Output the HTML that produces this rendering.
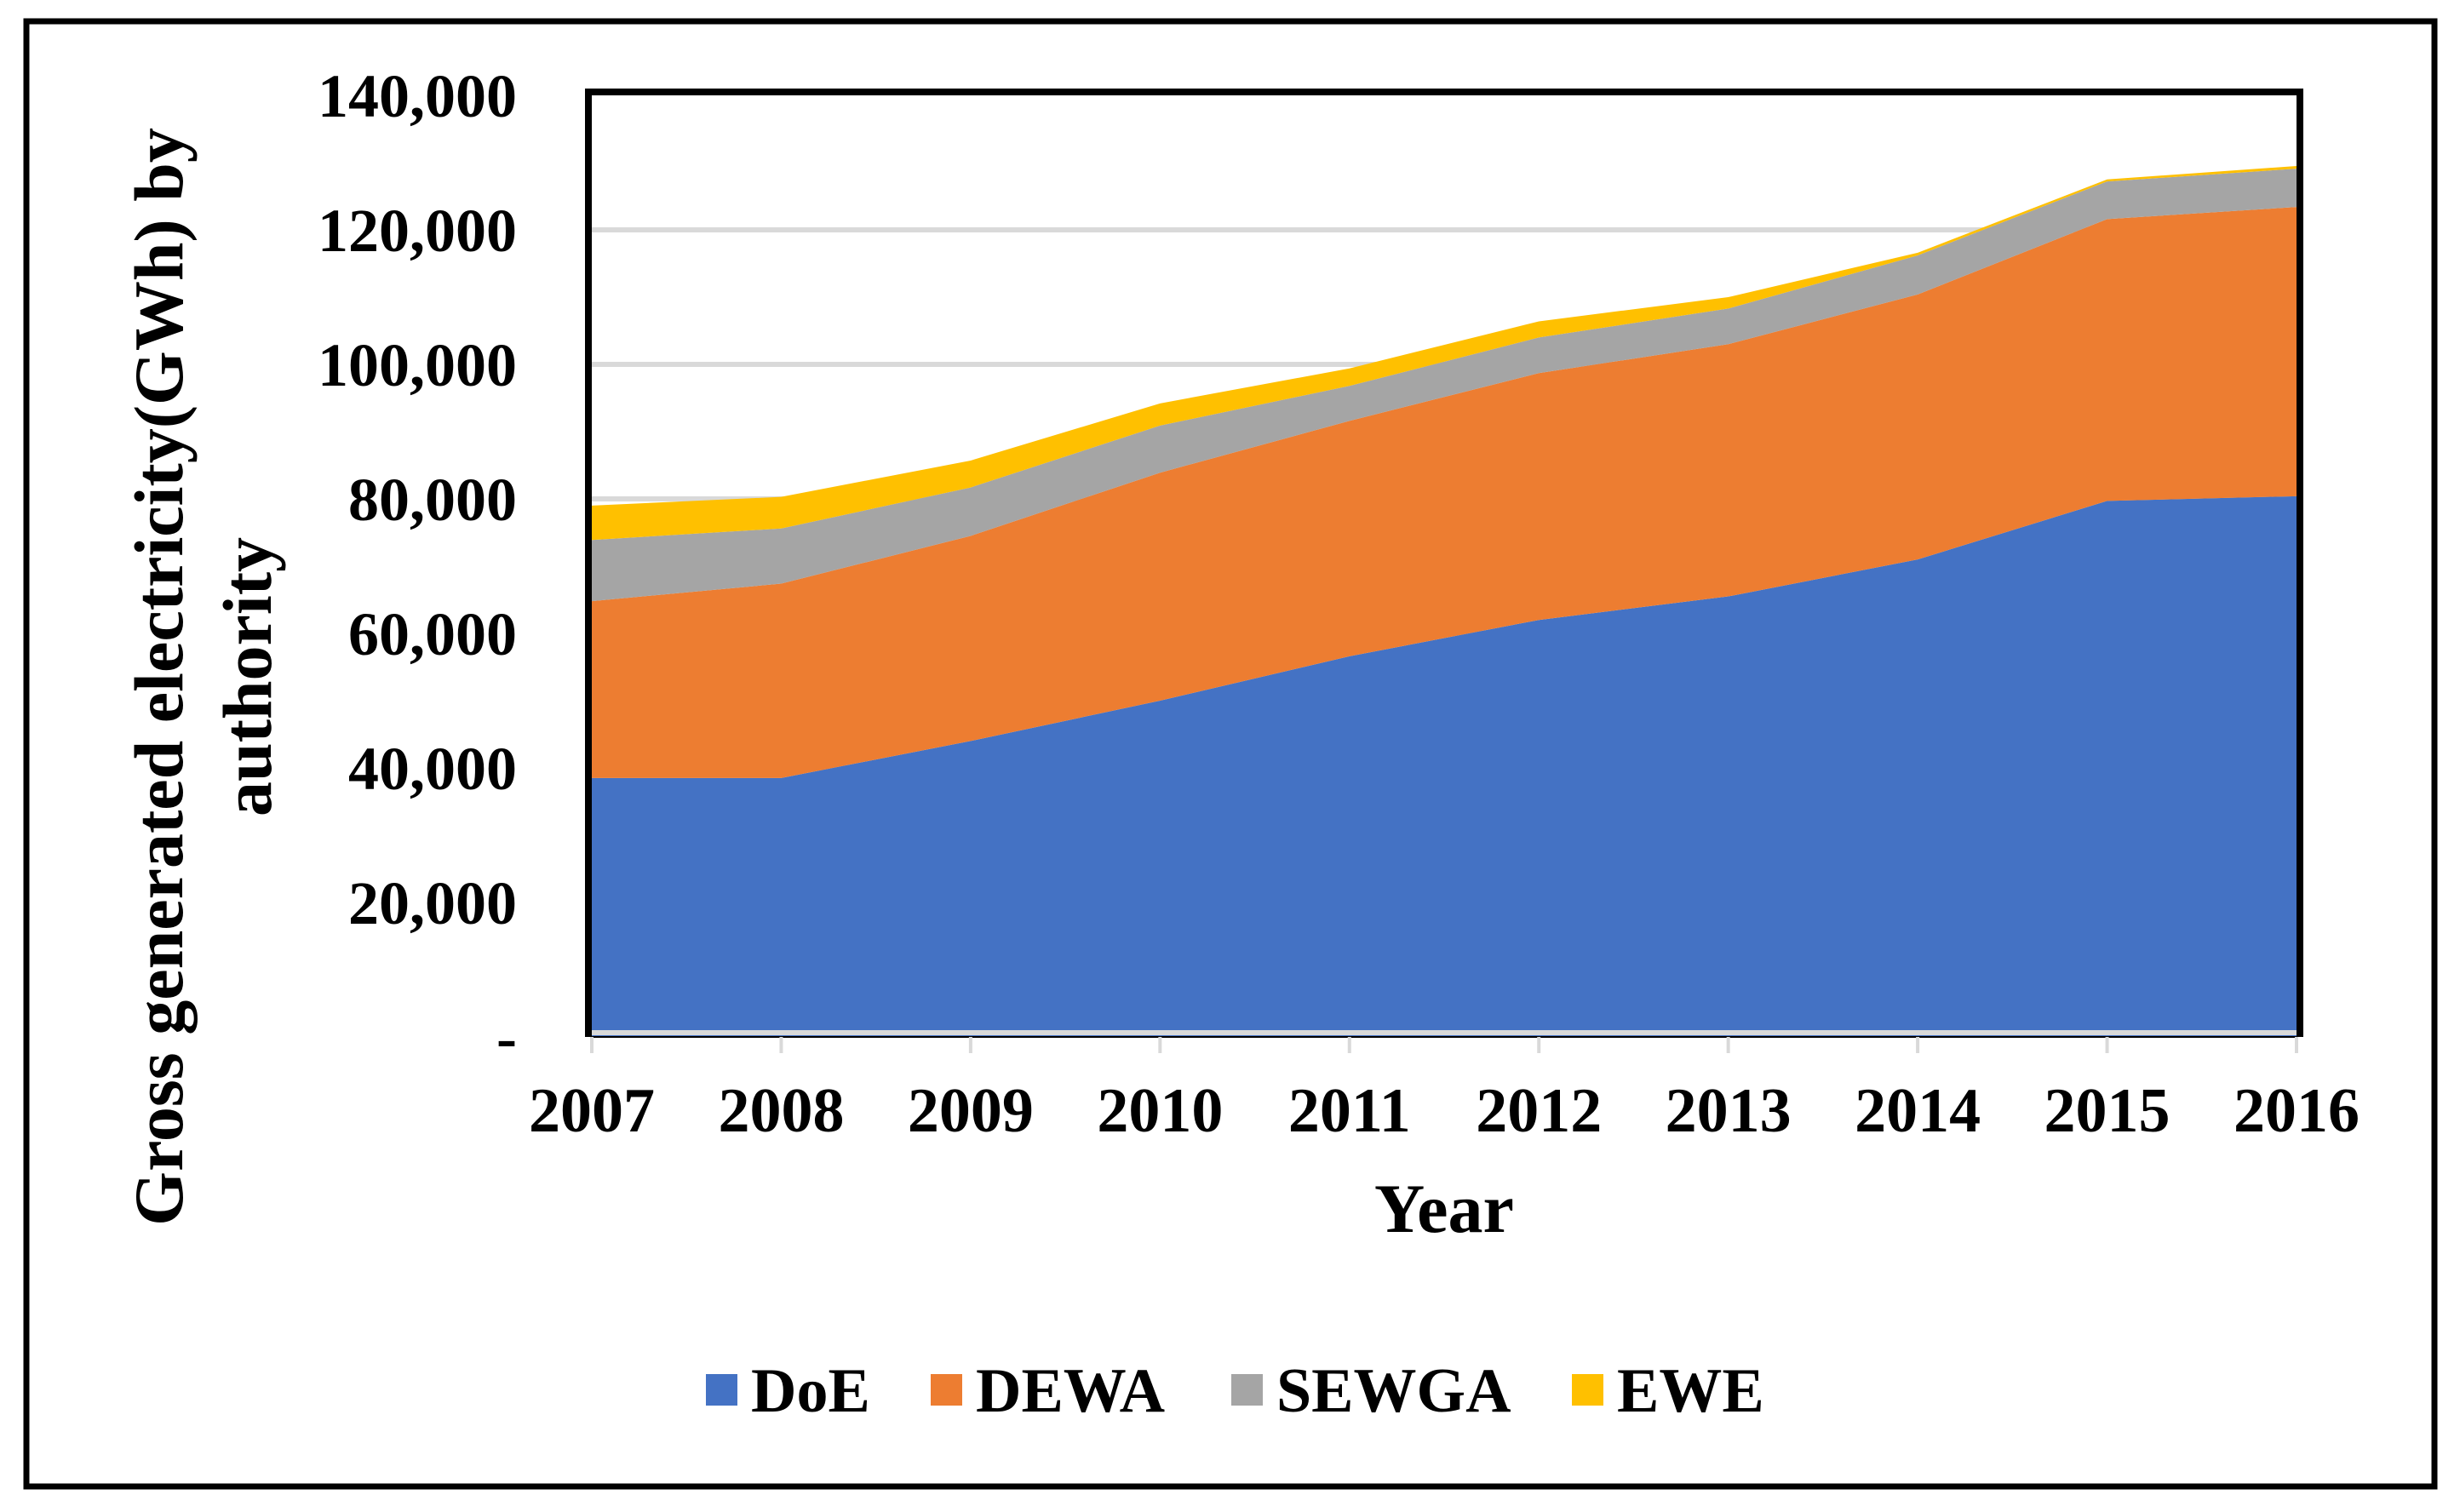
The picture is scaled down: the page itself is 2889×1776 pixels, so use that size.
<!DOCTYPE html>
<html><head><meta charset="utf-8">
<style>
html,body{margin:0;padding:0;background:#fff;}
body{width:2889px;height:1771px;overflow:hidden;position:relative;font-family:"Liberation Serif",serif;font-weight:bold;}
</style></head>
<body>
<svg id="chart" width="2889" height="1771" xmlns="http://www.w3.org/2000/svg" font-family="Liberation Serif, serif" font-weight="bold">
  <rect x="31" y="25" width="2828" height="1721" fill="#fff" stroke="#000" stroke-width="7"/>
  <g id="grid"></g>
  <g id="areas"></g>
  <g id="axes"></g>
  <text transform="translate(186,795) rotate(-90)" text-anchor="middle" font-size="82" dy="28">Gross generated electricity(GWh) by</text>
  <text transform="translate(290,795) rotate(-90)" text-anchor="middle" font-size="82" dy="28">authority</text>
  <text x="1696" y="1447" text-anchor="middle" font-size="82">Year</text>
  <g id="legend"></g>
</svg>
<script>
const years = ["2007","2008","2009","2010","2011","2012","2013","2014","2015","2016"];
const seriesNames = ["DoE","DEWA","SEWGA","EWE"];
const doe   = [38.5,38.5,44.0,50.0,56.6,62.0,65.5,71.0,79.7,80.4];
const dewa  = [26.3,28.9,30.5,33.9,35.0,36.7,37.5,39.4,41.9,43.0];
const sewga = [9.1,8.2,7.2,7.0,5.2,5.3,5.3,5.8,5.6,5.7];
const ewe   = [5.1,4.7,4.0,3.3,2.6,2.4,1.7,0.4,0.3,0.4];
const yTicks = [0,20,40,60,80,100,120,140];
const yTickLabels = ["-","20,000","40,000","60,000","80,000","100,000","120,000","140,000"];

const NS="http://www.w3.org/2000/svg";
const colors=["#4472C4","#ED7D31","#A5A5A5","#FFC000"];
const X0=695,X1=2697,Y0=1218,Y1=112,YMAX=140;
function xs(i){return X0+(X1-X0)*i/(years.length-1);}
function ys(v){return Y0-(Y0-Y1)*v/YMAX;}
function mk(tag,attrs,parent){const e=document.createElementNS(NS,tag);for(const k in attrs)e.setAttribute(k,attrs[k]);parent.appendChild(e);return e;}

const grid=document.getElementById('grid');
yTicks.forEach((t,i)=>{
  if(t>0&&t<YMAX){
    const l=mk('line',{x1:X0,x2:X1,y1:ys(t),y2:ys(t),stroke:'#D9D9D9','stroke-width':6},grid);
    
    
  }
  const tx=mk('text',{x:607,y:ys(t)+25,'text-anchor':'end','font-size':72},grid);
  
  
  tx.textContent=yTickLabels[i];
});

const areas=document.getElementById('areas');
const data=[doe,dewa,sewga,ewe];
let base=years.map(()=>0);
data.forEach((s,k)=>{
  const top=base.map((b,i)=>b+s[i]);
  let d='M'+xs(0)+','+ys(top[0]);
  for(let i=1;i<years.length;i++)d+=' L'+xs(i)+','+ys(top[i]);
  for(let i=years.length-1;i>=0;i--)d+=' L'+xs(i)+','+ys(base[i]);
  d+='Z';
  const p=mk('path',{d:d,fill:colors[k]},areas);
  
  
  base=top;
});

const axes=document.getElementById('axes');
const zl=mk('line',{x1:X0,x2:X1,y1:Y0-5,y2:Y0-5,stroke:'#D9D9D9','stroke-width':6},axes);


const xl=mk('line',{x1:X0,x2:X1,y1:Y0,y2:Y0,stroke:'#000','stroke-width':2},axes);


const fr=mk('path',{d:`M${X0-4},${Y0} L${X0-4},${Y1-4} L${X1+4},${Y1-4} L${X1+4},${Y0}`,fill:'none',stroke:'#000','stroke-width':8},axes);


years.forEach((y,i)=>{
  const t=mk('line',{x1:xs(i),x2:xs(i),y1:Y0,y2:Y0+19,stroke:'#D9D9D9','stroke-width':4},axes);
  
  
  const tx=mk('text',{x:xs(i),y:1329,'text-anchor':'middle','font-size':74},axes);
  
  
  tx.textContent=y;
});

const legend=document.getElementById('legend');
const lx=[829,1093,1446,1846];
seriesNames.forEach((n,k)=>{
  const r=mk('rect',{x:lx[k],y:1614,width:37,height:37,fill:colors[k]},legend);
  
  
  const t=mk('text',{x:lx[k]+53,y:1658,'font-size':74},legend);
  
  
  t.textContent=n;
});
</script>
</body></html>
